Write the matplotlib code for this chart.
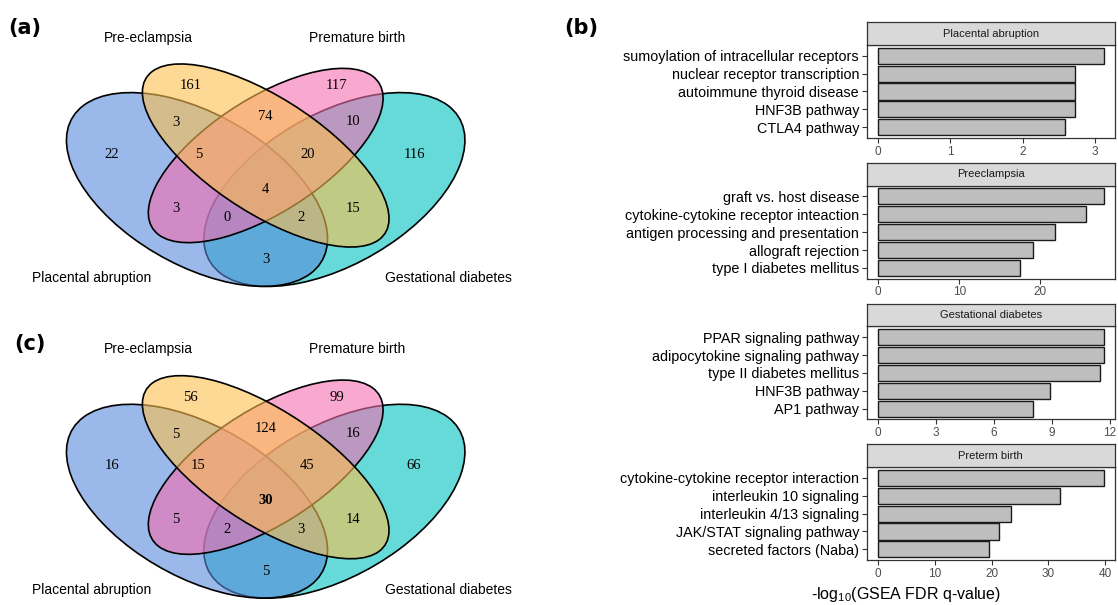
import numpy as np
import matplotlib
matplotlib.use("Agg")
import matplotlib.pyplot as plt
from matplotlib.patches import Ellipse

plt.rcParams['font.family'] = ['Liberation Sans', 'DejaVu Sans']
plt.rcParams['mathtext.default'] = 'regular'

W, H = 1118, 605

# ---- Venn data (a) and (c) ----
set_names = ['Pre-eclampsia', 'Premature birth', 'Placental abruption', 'Gestational diabetes']
# region order: PE, PB, PA, GD, PA&PE, PE&PB, PB&GD, PA&PE&PB, PE&PB&GD, all,
#               PA&PB, PA&PB&GD, PA&PE&GD, PE&GD, PA&GD
region_keys = ['PE', 'PB', 'PA', 'GD', 'PA_PE', 'PE_PB', 'PB_GD', 'PA_PE_PB', 'PE_PB_GD',
               'ALL', 'PA_PB', 'PA_PB_GD', 'PA_PE_GD', 'PE_GD', 'PA_GD']
counts_a = [161, 117, 22, 116, 3, 74, 10, 5, 20, 4, 3, 0, 2, 15, 3]
counts_c = [56, 99, 16, 66, 5, 124, 16, 15, 45, 30, 5, 2, 3, 14, 5]

# ---- GSEA bar data (b) ----
panel_titles = ['Placental abruption', 'Preeclampsia', 'Gestational diabetes', 'Preterm birth']
pathways = [
    ['sumoylation of intracellular receptors', 'nuclear receptor transcription',
     'autoimmune thyroid disease', 'HNF3B pathway', 'CTLA4 pathway'],
    ['graft vs. host disease', 'cytokine-cytokine receptor inteaction',
     'antigen processing and presentation', 'allograft rejection', 'type I diabetes mellitus'],
    ['PPAR signaling pathway', 'adipocytokine signaling pathway', 'type II diabetes mellitus',
     'HNF3B pathway', 'AP1 pathway'],
    ['cytokine-cytokine receptor interaction', 'interleukin 10 signaling',
     'interleukin 4/13 signaling', 'JAK/STAT signaling pathway', 'secreted factors (Naba)'],
]
neglog_q = [
    [3.12, 2.72, 2.72, 2.72, 2.59],
    [27.8, 25.6, 21.8, 19.05, 17.55],
    [11.67, 11.67, 11.48, 8.88, 8.02],
    [39.77, 32.0, 23.5, 21.35, 19.5],
]
x_ticks = [[0, 1, 2, 3], [0, 10, 20], [0, 3, 6, 9, 12], [0, 10, 20, 30, 40]]

fig = plt.figure(figsize=(W / 100, H / 100), dpi=100)


def px_axes(left, top, right, bottom):
    return fig.add_axes([left / W, 1 - bottom / H, (right - left) / W, (bottom - top) / H])


# ---------------- Venn diagrams ----------------
# ellipse geometry in VennDiagram npc units
ellipses = [  # (key, center, a, b, angle, colour) in draw order
    ('GD', (0.65, 0.47), 0.35, 0.20, 45, (0 / 255, 192 / 255, 192 / 255)),
    ('PA', (0.35, 0.47), 0.35, 0.20, -45, (88 / 255, 138 / 255, 220 / 255)),
    ('PB', (0.50, 0.57), 0.33, 0.15, 45, (245 / 255, 110 / 255, 175 / 255)),
    ('PE', (0.50, 0.57), 0.35, 0.15, -45, (252 / 255, 192 / 255, 78 / 255)),
]
region_pos = {
    'PE': (0.336, 0.775), 'PB': (0.655, 0.775), 'PA': (0.164, 0.574), 'GD': (0.824, 0.574),
    'PA_PE': (0.304, 0.666), 'PE_PB': (0.5, 0.684), 'PB_GD': (0.691, 0.669),
    'PA_PE_PB': (0.353, 0.574), 'PE_PB_GD': (0.591, 0.574), 'ALL': (0.5, 0.471),
    'PA_PB': (0.304, 0.415), 'PA_PB_GD': (0.415, 0.387), 'PA_PE_GD': (0.578, 0.387),
    'PE_GD': (0.691, 0.415), 'PA_GD': (0.5, 0.263),
}
label_pos = [(0.244, 0.9165), (0.699, 0.9165), (0.120, 0.209), (0.899, 0.209)]

SX, SY, X_MID = 458.0, 340.0, 265.7


def venn(top, bottom, cy, counts, bold_key=None):
    ax = px_axes(0, top, 560, bottom)
    ax.set_xlim(0.5 + (0 - X_MID) / SX, 0.5 + (560 - X_MID) / SX)
    ax.set_ylim(0.57 - (bottom - cy) / SY, 0.57 - (top - cy) / SY)
    ax.axis('off')
    for z, (key, c, a, b, ang, col) in enumerate(ellipses):
        e = Ellipse(c, 2 * a, 2 * b, angle=ang, facecolor=col + (0.6,),
                    edgecolor='black', linewidth=1.2, zorder=z + 1)
        ax.add_patch(e)
    for key, n in zip(region_keys, counts):
        x, y = region_pos[key]
        ax.text(x, y, str(n), ha='center', va='center', fontsize=10.5,
                family=['Liberation Serif', 'DejaVu Serif'],
                fontweight='bold' if key == bold_key else 'normal', zorder=10)
    for name, (x, y) in zip(set_names, label_pos):
        ax.text(x, y, name, ha='center', va='center', fontsize=10, zorder=10)


venn(0, 300, 155.5, counts_a)
venn(300, 605, 467.2, counts_c, bold_key='ALL')

fig.text(25 / W, 1 - 28 / H, '(a)', fontsize=15, fontweight='bold', family='DejaVu Sans',
         ha='center', va='center')
fig.text(581 / W, 1 - 28 / H, '(b)', fontsize=15, fontweight='bold', family='DejaVu Sans',
         ha='center', va='center')
fig.text(30 / W, 1 - 344 / H, '(c)', fontsize=15, fontweight='bold', family='DejaVu Sans',
         ha='center', va='center')

# ---------------- GSEA bar panels ----------------
P_LEFT, P_RIGHT = 866.7, 1115.0
for i in range(4):
    s_top = 22.3 + i * 140.7
    s_bot = s_top + 22.7
    p_bot = s_bot + 93.0
    ax = px_axes(P_LEFT, s_bot, P_RIGHT, p_bot)
    vals = neglog_q[i]
    ypos = np.arange(1, len(vals) + 1)
    ax.barh(ypos, vals, height=0.9, color='#BEBEBE', edgecolor='#1A1A1A', linewidth=1.0)
    vmax = max(vals)
    ax.set_xlim(-0.05 * vmax, 1.05 * vmax)
    ax.set_ylim(len(vals) + 0.6, 0.4)
    ax.set_yticks(ypos)
    ax.set_yticklabels(pathways[i], fontsize=10.4, color='black')
    ax.set_xticks(x_ticks[i])
    ax.set_xticklabels([str(t) for t in x_ticks[i]], fontsize=8.5, color='#4D4D4D')
    ax.tick_params(axis='both', length=3.5, width=0.8, color='#333333', pad=2)
    for sp in ax.spines.values():
        sp.set_color('#333333')
        sp.set_linewidth(0.9)

    st = px_axes(P_LEFT, s_top, P_RIGHT, s_bot)
    st.set_facecolor('#D9D9D9')
    st.set_xticks([])
    st.set_yticks([])
    for sp in st.spines.values():
        sp.set_color('#333333')
        sp.set_linewidth(0.9)
    st.text(0.5, 0.5, panel_titles[i], ha='center', va='center', fontsize=8, color='#1A1A1A',
            transform=st.transAxes)

fig.text(906 / W, 1 - 595 / H, r'-log$_{10}$(GSEA FDR q-value)', ha='center', va='center',
         fontsize=11.5)

fig.savefig('out.png', dpi=100)
